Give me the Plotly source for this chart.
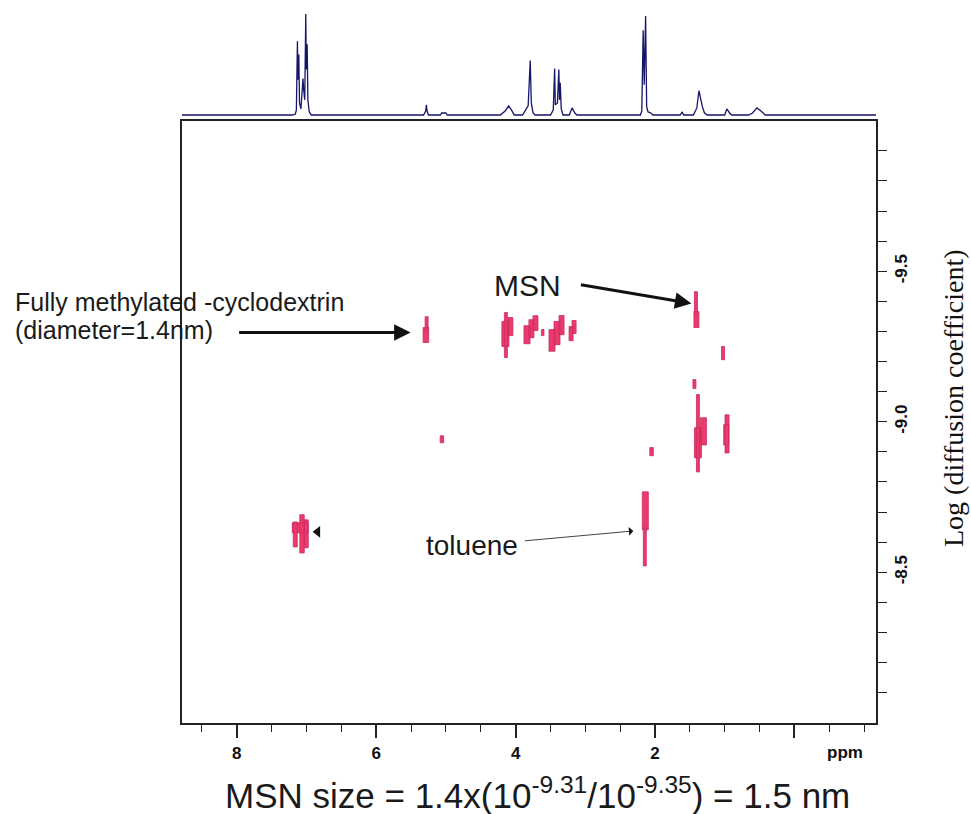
import plotly.graph_objects as go

# ---------------- data ----------------
# 1D projection spectrum (ppm, relative intensity)
SPEC_PPM = [8.79, 7.20, 7.16, 7.145, 7.13, 7.122, 7.11, 7.10, 7.08, 7.06, 7.05, 7.04, 7.025,
            7.01, 7.003, 6.99, 6.98, 6.96, 6.93,
            5.32, 5.29, 5.28, 5.27, 5.25, 5.08, 5.06, 5.00, 4.98,
            4.22, 4.15, 4.10, 4.06, 4.02,
            3.90, 3.85, 3.82, 3.79, 3.775, 3.75, 3.72,
            3.50, 3.46, 3.44, 3.43, 3.40, 3.38, 3.37, 3.36, 3.345, 3.32,
            3.23, 3.19, 3.15, 3.12,
            2.21, 2.19, 2.17, 2.155, 2.135, 2.12, 2.10, 2.06, 2.03,
            1.64, 1.61, 1.59, 1.45, 1.40, 1.37, 1.345, 1.32, 1.29, 1.25,
            1.00, 0.97, 0.93, 0.90, 0.66, 0.60, 0.54, 0.48, 0.42, -1.17]
SPEC_INT = [0.0, 0.0, 0.01, 0.05, 0.73, 0.35, 0.60, 0.12, 0.06, 0.30, 0.36, 0.25, 0.15,
            1.00, 0.45, 0.70, 0.15, 0.03, 0.0,
            0.0, 0.04, 0.10, 0.04, 0.0, 0.0, 0.02, 0.02, 0.0,
            0.0, 0.04, 0.09, 0.05, 0.0,
            0.0, 0.05, 0.09, 0.54, 0.12, 0.02, 0.0,
            0.0, 0.05, 0.46, 0.10, 0.12, 0.45, 0.15, 0.32, 0.06, 0.0,
            0.0, 0.07, 0.02, 0.0,
            0.0, 0.04, 0.84, 0.30, 0.98, 0.08, 0.03, 0.02, 0.0,
            0.0, 0.03, 0.0, 0.0, 0.07, 0.24, 0.16, 0.08, 0.02, 0.0,
            0.0, 0.06, 0.02, 0.0, 0.0, 0.02, 0.07, 0.04, 0.0, 0.0]

# DOSY cross-peak contour extents: ppm (high, low) and log D (top, bottom)
SPOT_PPM_HI = [5.298, 5.327, 4.161, 4.197, 4.110, 3.880, 3.809, 3.751, 3.629, 3.521, 3.449,
               3.377, 3.233, 3.190, 1.435, 1.442, 1.046, 1.456, 1.406, 1.435, 1.349, 0.996,
               1.015, 5.082, 2.075, 2.183, 2.168, 7.190, 7.096, 7.032, 7.204]
SPOT_PPM_LO = [5.255, 5.247, 4.118, 4.096, 4.039, 3.793, 3.737, 3.679, 3.593, 3.435, 3.363,
               3.305, 3.175, 3.132, 1.391, 1.370, 1.003, 1.413, 1.363, 1.334, 1.262, 0.938,
               0.942, 5.032, 2.024, 2.096, 2.125, 7.132, 7.032, 6.974, 6.974]
SPOT_LOGD_TOP = [-9.349, -9.313, -9.363, -9.333, -9.346, -9.319, -9.339, -9.352, -9.306, -9.306,
                 -9.333, -9.353, -9.316, -9.336, -9.432, -9.366, -9.250, -9.140, -9.090, -8.980,
                 -9.013, -9.023, -8.990, -8.953, -8.914, -8.767, -8.647, -8.667, -8.691, -8.674,
                 -8.664]
SPOT_LOGD_BOT = [-9.303, -9.263, -9.213, -9.250, -9.286, -9.259, -9.279, -9.303, -9.286, -9.234,
                 -9.256, -9.289, -9.269, -9.293, -9.363, -9.313, -9.206, -9.110, -8.833, -8.880,
                 -8.923, -8.896, -8.923, -8.930, -8.887, -8.641, -8.521, -8.584, -8.564, -8.581,
                 -8.631]

X_TICKS = [8, 6, 4, 2, 0]
X_TICK_TEXT = ["8", "6", "4", "2", ""]
Y_TICKS = [-9.9, -9.8, -9.7, -9.6, -9.5, -9.4, -9.3, -9.2, -9.1, -9.0,
           -8.9, -8.8, -8.7, -8.6, -8.5, -8.4, -8.3, -8.2, -8.1]
Y_TICK_TEXT = ["", "", "", "", "-9.5", "", "", "", "", "-9.0",
               "", "", "", "", "-8.5", "", "", "", ""]

# ---------------- figure ----------------
W, H = 971, 814
def px(x): return x / W
def py(y): return 1 - y / H

fig = go.Figure()

# spectrum
fig.add_trace(go.Scatter(x=SPEC_PPM, y=SPEC_INT, mode="lines", xaxis="x2", yaxis="y2",
                         line=dict(color="#15156a", width=1.3), hoverinfo="skip",
                         showlegend=False))

# cross peaks
sx, sy = [], []
for a, b, t, u in zip(SPOT_PPM_HI, SPOT_PPM_LO, SPOT_LOGD_TOP, SPOT_LOGD_BOT):
    sx += [a, b, b, a, a, None]
    sy += [t, t, u, u, t, None]
fig.add_trace(go.Scatter(x=sx, y=sy, mode="lines", fill="toself",
                         fillcolor="#ea3a6e", line=dict(color="#cc2c60", width=0.8),
                         hoverinfo="skip", showlegend=False))

# small black pointer next to aromatic spot
fig.add_trace(go.Scatter(x=[6.84], y=[-8.634], mode="markers",
                         marker=dict(symbol="triangle-left", size=10, color="#111"),
                         hoverinfo="skip", showlegend=False))

xdom = [px(181.7), px(876)]
fig.update_layout(
    width=W, height=H, autosize=False,
    margin=dict(l=0, r=0, t=0, b=0),
    paper_bgcolor="white", plot_bgcolor="white",
    showlegend=False,
    xaxis=dict(domain=xdom, range=[8.79, -1.17], showgrid=False, zeroline=False,
               showline=True, mirror=True, linecolor="#222", linewidth=1.5,
               ticks="outside", tickvals=X_TICKS, ticktext=X_TICK_TEXT,
               ticklen=14, tickwidth=1.6, tickcolor="#222",
               minor=dict(ticks="outside", dtick=0.5, tick0=0, ticklen=8,
                          tickwidth=1.3, tickcolor="#222", showgrid=False),
               tickfont=dict(family="Liberation Sans, Arial", size=17, color="#111",
                             weight="bold"),
               anchor="y"),
    yaxis=dict(domain=[py(722.7), py(120.7)], range=[-8.0, -10.0], side="right",
               showgrid=False, zeroline=False, showline=True, mirror=True,
               linecolor="#222", linewidth=1.5, ticks="outside",
               tickvals=Y_TICKS, ticktext=Y_TICK_TEXT, ticklen=9, tickwidth=1.3,
               tickcolor="#222", tickangle=-90,
               tickfont=dict(family="Liberation Sans, Arial", size=17, color="#111",
                             weight="bold"),
               anchor="x"),
    xaxis2=dict(domain=xdom, range=[8.79, -1.17], visible=False, anchor="y2"),
    yaxis2=dict(domain=[py(118), py(5)], range=[-0.0297, 1.089], visible=False,
                anchor="x2"),
)

sans = "Liberation Sans, Arial, Helvetica"
ann = []
ann.append(dict(text="Fully methylated -cyclodextrin", x=px(13), y=py(302), xref="paper",
                yref="paper", xanchor="left", yanchor="middle", showarrow=False,
                font=dict(family=sans, size=25, color="#1a1a1a")))
ann.append(dict(text="(diameter=1.4nm)", x=px(13), y=py(330), xref="paper",
                yref="paper", xanchor="left", yanchor="middle", showarrow=False,
                font=dict(family=sans, size=25, color="#1a1a1a")))
ann.append(dict(text="MSN", x=px(527), y=py(286), xref="paper", yref="paper",
                xanchor="center", yanchor="middle", showarrow=False,
                font=dict(family=sans, size=30, color="#1a1a1a")))
ann.append(dict(text="toluene", x=px(424), y=py(545), xref="paper", yref="paper",
                xanchor="left", yanchor="middle", showarrow=False,
                font=dict(family=sans, size=28, color="#1a1a1a")))
ann.append(dict(text="ppm", x=-0.72, y=py(752), xref="x", yref="paper",
                xanchor="center", yanchor="middle", showarrow=False,
                font=dict(family=sans, size=17, color="#111", weight="bold")))
ann.append(dict(text="MSN size = 1.4x(10<sup>-9.31</sup>/10<sup>-9.35</sup>) = 1.5 nm",
                x=px(537), y=py(793), xref="paper", yref="paper",
                xanchor="center", yanchor="middle", showarrow=False,
                font=dict(family=sans, size=35, color="#1a1a1a")))
ann.append(dict(text="Log (diffusion coefficient)", x=px(953), y=py(398), xref="paper",
                yref="paper", xanchor="center", yanchor="middle", showarrow=False,
                textangle=-90,
                font=dict(family="Liberation Serif, Times New Roman", size=28,
                          color="#111")))
# arrows
ann.append(dict(text="", x=5.506, y=-9.296, xref="x", yref="y", ax=-173, ay=0,
                showarrow=True, arrowhead=2, arrowsize=1.1, arrowwidth=3,
                arrowcolor="#111", standoff=0))
ann.append(dict(text="", x=1.478, y=-9.393, xref="x", yref="y", ax=-112, ay=-19,
                showarrow=True, arrowhead=2, arrowsize=1.1, arrowwidth=3,
                arrowcolor="#111", standoff=0))
ann.append(dict(text="", x=2.312, y=-8.637, xref="x", yref="y", ax=-110, ay=10,
                showarrow=True, arrowhead=1, arrowsize=1.8, arrowwidth=0.8,
                arrowcolor="#111", standoff=0))
fig.update_layout(annotations=ann)

fig.write_html("out.html", config={"displayModeBar": False},
               post_script="document.body.style.margin='0';"
                           "document.body.style.overflow='hidden';")
